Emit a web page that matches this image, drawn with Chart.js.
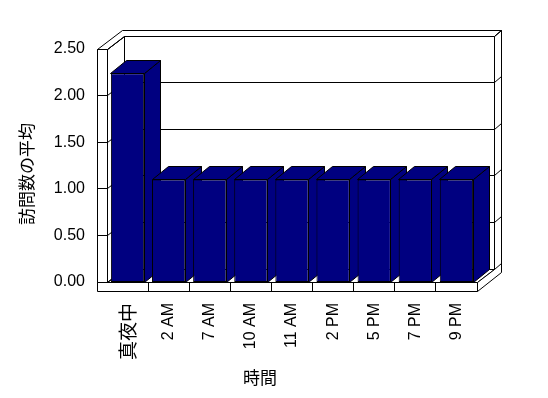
<!DOCTYPE html>
<html><head><meta charset="utf-8">
<script src="https://cdn.jsdelivr.net/npm/chart.js@4.4.1/dist/chart.umd.min.js"></script>
<style>html,body{margin:0;padding:0;background:#fff}#c{display:block}</style>
</head><body>
<canvas id="c" width="548" height="398"></canvas>
<script>
const categories = ['真夜中', '2 AM', '7 AM', '10 AM', '11 AM', '2 PM', '5 PM', '7 PM', '9 PM'];
const visitAverages = [2.24, 1.10, 1.10, 1.10, 1.10, 1.10, 1.10, 1.10, 1.10];
const yTicks = [0, 0.5, 1, 1.5, 2, 2.5];
const yAxisTitle = '訪問数の平均';
const xAxisTitle = '時間';

// 3D geometry (pixels)
const DX = 17, DY = 13;      // back wall inner plane offset
const OX = 24.5, OY = 19;    // back wall outer face offset
const WALL = 9.5, FLOOR = 9; // slab thickness
const BDX = 16, BDY = 12.5;  // bar depth offset
const BAR = '#000080';

function snap(v) { return Math.floor(v) + 0.5; }
function poly(ctx, pts) {
  ctx.beginPath();
  pts.forEach((p, i) => { const x = snap(p[0]), y = snap(p[1]); i ? ctx.lineTo(x, y) : ctx.moveTo(x, y); });
  ctx.closePath(); ctx.fill(); ctx.stroke();
}
function line(ctx, x0, y0, x1, y1) {
  ctx.beginPath(); ctx.moveTo(snap(x0), snap(y0)); ctx.lineTo(snap(x1), snap(y1)); ctx.stroke();
}

const box3d = {
  id: 'box3d',
  beforeDatasetsDraw(chart) {
    const ctx = chart.ctx, {left: L, right: R, top: T, bottom: B} = chart.chartArea, y = chart.scales.y;
    ctx.save(); ctx.lineWidth = 1; ctx.strokeStyle = '#000'; ctx.fillStyle = '#fff';
    poly(ctx, [[L + DX, T - DY], [R + DX, T - DY], [R + DX, B - DY], [L + DX, B - DY]]);
    poly(ctx, [[L, T], [L + DX, T - DY], [L + DX, B - DY], [L, B]]);
    poly(ctx, [[L, B], [R, B], [R + DX, B - DY], [L + DX, B - DY]]);
    poly(ctx, [[L - WALL, T], [L, T], [L + DX, T - DY], [R + DX, T - DY], [R + OX, T - OY], [L - WALL + OX, T - OY]]);
    poly(ctx, [[R, B], [R + DX, B - DY], [R + DX, T - DY], [R + OX, T - OY], [R + OX, B + FLOOR - OY], [R, B + FLOOR]]);
    yTicks.forEach(v => {
      const py = y.getPixelForValue(v);
      line(ctx, L, py, L + DX, py - DY);
      line(ctx, L + DX, py - DY, R + DX, py - DY);
      line(ctx, R + DX, py - DY, R + OX, py - OY);
    });
    ctx.fillStyle = BAR;
    chart.getDatasetMeta(0).data.forEach(bar => {
      const p = bar.getProps(['x', 'y', 'base', 'width'], true);
      const x0 = p.x - p.width / 2, x1 = p.x + p.width / 2;
      poly(ctx, [[x1, p.y], [x1 + BDX, p.y - BDY], [x1 + BDX, p.base - BDY], [x1, p.base]]);
      poly(ctx, [[x0, p.y], [x1, p.y], [x1 + BDX, p.y - BDY], [x0 + BDX, p.y - BDY]]);
    });
    ctx.restore();
  },
  afterDatasetsDraw(chart) {
    const ctx = chart.ctx, {left: L, right: R, top: T, bottom: B} = chart.chartArea, y = chart.scales.y;
    ctx.save(); ctx.lineWidth = 1; ctx.strokeStyle = '#000'; ctx.fillStyle = '#fff';
    poly(ctx, [[L - WALL, T], [L, T], [L, B], [L - WALL, B]]);
    poly(ctx, [[L - WALL, B], [R, B], [R, B + FLOOR], [L - WALL, B + FLOOR]]);
    yTicks.forEach(v => { const py = y.getPixelForValue(v); line(ctx, L - WALL, py, L, py); });
    const n = categories.length, step = (R - L) / n;
    for (let i = 1; i < n; i++) line(ctx, L + i * step, B, L + i * step, B + FLOOR);
    ctx.fillStyle = '#000';
    ctx.font = '17px "Noto Sans CJK JP"';
    ctx.textAlign = 'center'; ctx.textBaseline = 'middle';
    ctx.fillText(xAxisTitle, 260, 378);
    ctx.translate(27, 174); ctx.rotate(-Math.PI / 2);
    ctx.fillText(yAxisTitle, 0, 0);
    ctx.restore();
  }
};

new Chart(document.getElementById('c'), {
  type: 'bar',
  data: {
    labels: categories,
    datasets: [{
      data: visitAverages,
      backgroundColor: BAR,
      borderColor: '#000',
      borderWidth: 1,
      borderSkipped: false,
      categoryPercentage: 0.81,
      barPercentage: 1
    }]
  },
  options: {
    responsive: false,
    animation: false,
    devicePixelRatio: 1,
    layout: {padding: {left: 0, top: 49, right: 71, bottom: 0}},
    plugins: {legend: {display: false}, tooltip: {enabled: false}},
    scales: {
      y: {
        min: 0, max: 2.5,
        afterFit: s => { s.width = 107; },
        afterBuildTicks: s => { s.ticks = yTicks.map(v => ({value: v})); },
        grid: {display: false, drawTicks: false},
        border: {display: false},
        ticks: {
          padding: 22, color: '#000',
          font: {family: '"Liberation Sans", Arial', size: 16},
          callback: v => Number(v).toFixed(2)
        }
      },
      x: {
        afterFit: s => { s.height = 116; },
        grid: {display: false, drawTicks: false},
        border: {display: false},
        ticks: {
          padding: 21, color: '#000', autoSkip: false,
          minRotation: 90, maxRotation: 90,
          font: c => c.index === 0 ? {family: '"Noto Sans CJK JP"', size: 19} : {family: '"Liberation Sans", "Noto Sans CJK JP"', size: 16}
        }
      }
    }
  },
  plugins: [box3d]
});
</script>
</body></html>
